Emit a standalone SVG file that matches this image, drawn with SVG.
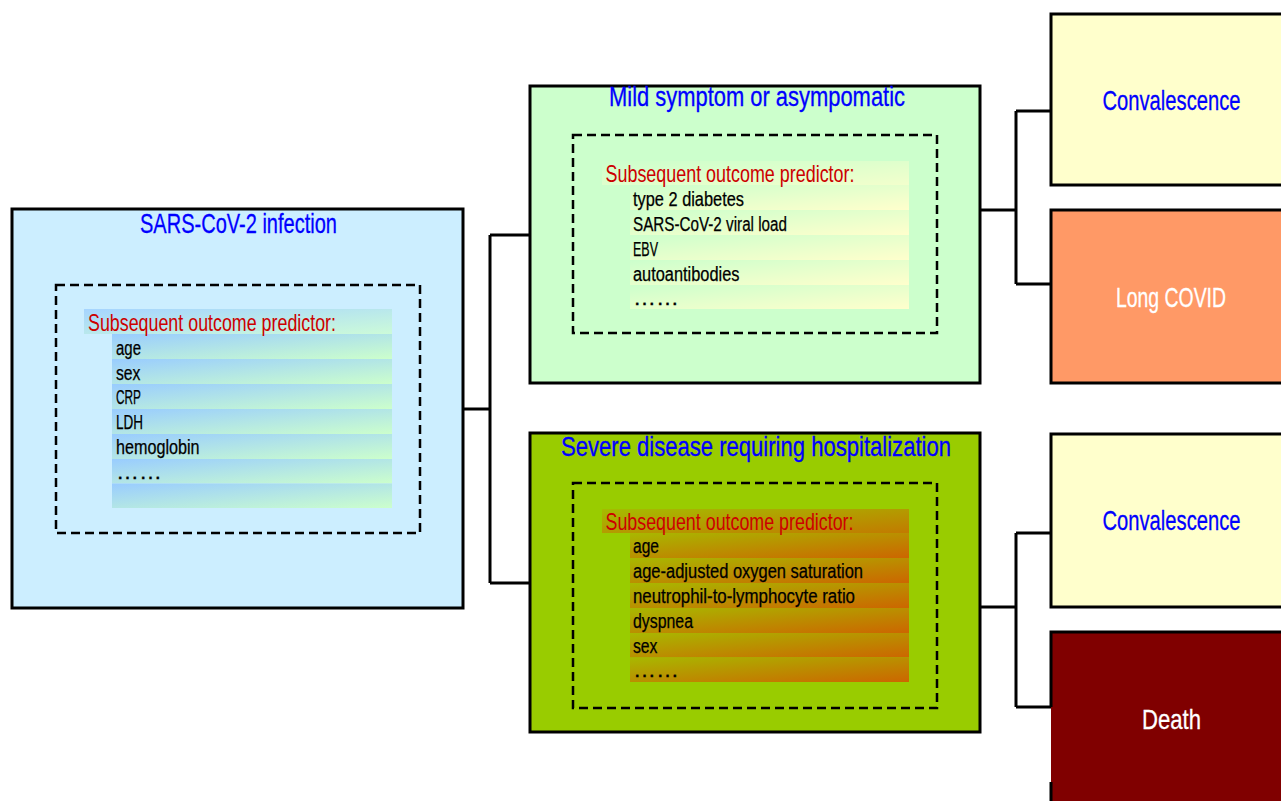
<svg xmlns="http://www.w3.org/2000/svg" width="1281" height="801" viewBox="0 0 1281 801">
<defs>
<linearGradient id="gBlue" x1="0" y1="0" x2="1" y2="1"><stop offset="0" stop-color="#99ccff"/><stop offset="1" stop-color="#ccffcc"/></linearGradient>
<linearGradient id="gGreen" x1="0" y1="0" x2="1" y2="1"><stop offset="0" stop-color="#ccffcc"/><stop offset="1" stop-color="#ffffcc"/></linearGradient>
<linearGradient id="gOrange" x1="0" y1="0" x2="1" y2="1"><stop offset="0" stop-color="#a8b800"/><stop offset="1" stop-color="#cc6600"/></linearGradient>
<style>
text{font-family:"Liberation Sans Narrow","Liberation Sans",Arial,sans-serif}
.box{stroke:#000;stroke-width:3}
.dash{fill:none;stroke:#000;stroke-width:2.5;stroke-dasharray:9 5}
.title{fill:#0000ff;stroke:#0000ff;stroke-width:0.3;font-size:28px;text-anchor:middle}
.big{font-size:28px;text-anchor:middle;stroke-width:0.3}
.hdr{fill:#cc0000;font-size:24px}
.item{fill:#000;stroke:#000;stroke-width:0.25;font-size:19.5px}
.conn{fill:none;stroke:#000;stroke-width:3}
</style>
</defs>
<rect width="1281" height="801" fill="#ffffff"/>
<g id="connectors">
<path class="conn" d="M463,409 H490 M490,235 V583 M490,235 H530 M490,583 H530"/>
<path class="conn" d="M980,210 H1016 M1016,111 V284 M1016,111 H1051 M1016,284 H1051"/>
<path class="conn" d="M980,607 H1016 M1016,533 V707 M1016,533 H1051 M1016,707 H1051"/>
</g>
<g id="infection">
<rect class="box" x="12" y="209" width="451" height="399" fill="#cceeff"/>
<text class="title" x="238.5" y="232.5" textLength="197" lengthAdjust="spacingAndGlyphs">SARS-CoV-2 infection</text>
<rect class="dash" x="56" y="285" width="364" height="248"/>
<rect x="84" y="309" width="308" height="25" fill="url(#gBlue)" opacity="0.75"/>
<rect x="112" y="334" width="280" height="25" fill="url(#gBlue)"/>
<rect x="112" y="359" width="280" height="25" fill="url(#gBlue)"/>
<rect x="112" y="384" width="280" height="25" fill="url(#gBlue)"/>
<rect x="112" y="409" width="280" height="25" fill="url(#gBlue)"/>
<rect x="112" y="434" width="280" height="25" fill="url(#gBlue)"/>
<rect x="112" y="459" width="280" height="24.5" fill="url(#gBlue)"/>
<rect x="112" y="483.5" width="280" height="24.5" fill="url(#gBlue)"/>
<text class="hdr" x="88" y="331" textLength="248" lengthAdjust="spacingAndGlyphs">Subsequent outcome predictor:</text>
<text class="item" x="116" y="355" textLength="25" lengthAdjust="spacingAndGlyphs">age</text>
<text class="item" x="116" y="380" textLength="24.5" lengthAdjust="spacingAndGlyphs">sex</text>
<text class="item" x="116" y="404" textLength="25" lengthAdjust="spacingAndGlyphs">CRP</text>
<text class="item" x="116" y="429" textLength="27" lengthAdjust="spacingAndGlyphs">LDH</text>
<text class="item" x="116" y="454" textLength="83.5" lengthAdjust="spacingAndGlyphs">hemoglobin</text>
<text class="item" x="116" y="479" textLength="46" lengthAdjust="spacingAndGlyphs">……</text>
</g>
<g id="mild">
<rect class="box" x="530" y="86" width="450" height="297" fill="#ccffcc"/>
<text class="title" x="757" y="106" textLength="296" lengthAdjust="spacingAndGlyphs">Mild symptom or asympomatic</text>
<rect class="dash" x="573" y="135" width="364" height="198"/>
<rect x="602" y="161" width="307" height="24" fill="url(#gGreen)" opacity="0.75"/>
<rect x="630" y="185" width="279" height="25" fill="url(#gGreen)"/>
<rect x="630" y="210" width="279" height="25" fill="url(#gGreen)"/>
<rect x="630" y="235" width="279" height="25" fill="url(#gGreen)"/>
<rect x="630" y="260" width="279" height="25" fill="url(#gGreen)"/>
<rect x="630" y="285" width="279" height="24" fill="url(#gGreen)"/>
<text class="hdr" x="605.5" y="182" textLength="249" lengthAdjust="spacingAndGlyphs">Subsequent outcome predictor:</text>
<text class="item" x="633" y="205.5" textLength="111" lengthAdjust="spacingAndGlyphs">type 2 diabetes</text>
<text class="item" x="633" y="230.5" textLength="154" lengthAdjust="spacingAndGlyphs">SARS-CoV-2 viral load</text>
<text class="item" x="633" y="255.5" textLength="25" lengthAdjust="spacingAndGlyphs">EBV</text>
<text class="item" x="633" y="280.5" textLength="106.5" lengthAdjust="spacingAndGlyphs">autoantibodies</text>
<text class="item" x="633" y="305" textLength="46" lengthAdjust="spacingAndGlyphs">……</text>
</g>
<g id="severe">
<rect class="box" x="530" y="433" width="450" height="299" fill="#99cc00"/>
<text class="title" x="756" y="456" textLength="390" lengthAdjust="spacingAndGlyphs">Severe disease requiring hospitalization</text>
<rect class="dash" x="573" y="483" width="364" height="225"/>
<rect x="602" y="509" width="307" height="24" fill="url(#gOrange)" opacity="0.8"/>
<rect x="630" y="533" width="279" height="25" fill="url(#gOrange)"/>
<rect x="630" y="558" width="279" height="25" fill="url(#gOrange)"/>
<rect x="630" y="583" width="279" height="25" fill="url(#gOrange)"/>
<rect x="630" y="608" width="279" height="25" fill="url(#gOrange)"/>
<rect x="630" y="633" width="279" height="24.5" fill="url(#gOrange)"/>
<rect x="630" y="657.5" width="279" height="24.5" fill="url(#gOrange)"/>
<text class="hdr" x="605.5" y="530" textLength="248" lengthAdjust="spacingAndGlyphs">Subsequent outcome predictor:</text>
<text class="item" x="633" y="552.5" textLength="26" lengthAdjust="spacingAndGlyphs">age</text>
<text class="item" x="633" y="577.5" textLength="230" lengthAdjust="spacingAndGlyphs">age-adjusted oxygen saturation</text>
<text class="item" x="633" y="602.5" textLength="222" lengthAdjust="spacingAndGlyphs">neutrophil-to-lymphocyte ratio</text>
<text class="item" x="633" y="627.5" textLength="60" lengthAdjust="spacingAndGlyphs">dyspnea</text>
<text class="item" x="633" y="652.5" textLength="24.5" lengthAdjust="spacingAndGlyphs">sex</text>
<text class="item" x="633" y="677" textLength="46" lengthAdjust="spacingAndGlyphs">……</text>
</g>
<g id="convalescence1">
<rect class="box" x="1051" y="14" width="250" height="171" fill="#ffffcc"/>
<text class="big" x="1171.5" y="110" fill="#0000ff" stroke="#0000ff" textLength="138" lengthAdjust="spacingAndGlyphs">Convalescence</text>
</g>
<g id="longcovid">
<rect class="box" x="1051" y="210" width="250" height="173" fill="#ff9966"/>
<text class="big" x="1171" y="307" fill="#ffffff" stroke="#ffffff" textLength="110" lengthAdjust="spacingAndGlyphs">Long COVID</text>
</g>
<g id="convalescence2">
<rect class="box" x="1051" y="434" width="250" height="173" fill="#ffffcc"/>
<text class="big" x="1171.5" y="530" fill="#0000ff" stroke="#0000ff" textLength="138" lengthAdjust="spacingAndGlyphs">Convalescence</text>
</g>
<g id="death">
<rect x="1051" y="632" width="250" height="180" fill="#800000"/>
<path class="conn" d="M1051,707 V632 H1290 M1051,782 V810"/>
<text class="big" x="1171.5" y="729" fill="#ffffff" stroke="#ffffff" textLength="59" lengthAdjust="spacingAndGlyphs">Death</text>
</g>
</svg>
